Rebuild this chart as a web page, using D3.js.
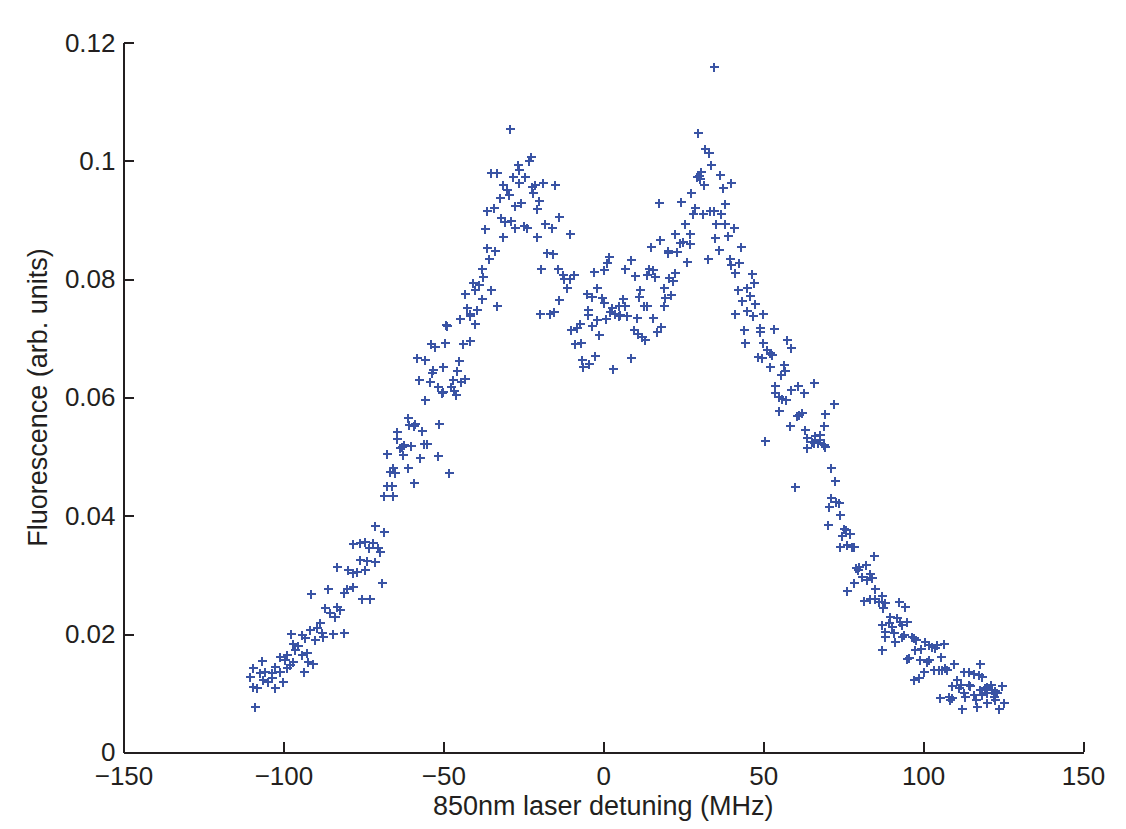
<!DOCTYPE html>
<html lang="en">
<head>
	<meta charset="UTF-8">
	<title>Fluorescence vs detuning</title>
	<style type="text/css">
		body {
			margin: 0;
			background: #fff;
		}
		svg text {
			font-family: "Liberation Sans", Arial, Helvetica, sans-serif;
			fill: #231f20;
		}
		.axis path,
		.axis line {
			fill: none;
			stroke: #231f20;
			stroke-width: 2;
			shape-rendering: crispEdges;
		}
		.axis text {
			font-size: 26px;
		}
		.label {
			font-size: 27px;
		}
		.pt {
			fill: none;
			stroke: #3953a4;
			stroke-width: 2;
			shape-rendering: crispEdges;
		}
	</style>
	<script src="https://d3js.org/d3.v7.min.js"></script>
</head>
<body>
<script type="text/javascript">
	// tick values / labels
	var xTicks = [-150, -100, -50, 0, 50, 100, 150];
	var yTicks = [0, 0.02, 0.04, 0.06, 0.08, 0.1, 0.12];
	var yTickLabels = ["0", "0.02", "0.04", "0.06", "0.08", "0.1", "0.12"];

	// measured points, [detuning MHz, fluorescence], grouped by part of the curve
	var leftWing = [[-67.7,0.0450],[-66.1,0.0450],[-59.3,0.0456],[-68.5,0.0433],[-65.6,0.0433],[-71.3,0.0382],[-68.7,0.0372],[-78.1,0.0352],[-76.2,0.0354],[-74.4,0.0356],[-72.0,0.0354],[-73.1,0.0345],[-70.3,0.0345],[-69.8,0.0338],[-76.2,0.0325],[-73.9,0.0324],[-71.3,0.0321],[-83.1,0.0314],[-79.7,0.0308],[-78.1,0.0303],[-77.0,0.0305],[-74.4,0.0308],[-69.2,0.0287],[-86.2,0.0277],[-80.2,0.0277],[-81.2,0.0269],[-78.1,0.0280],[-91.3,0.0267],[-75.5,0.0260],[-72.9,0.0260],[-87.0,0.0244],[-83.3,0.0246],[-82.3,0.0241],[-85.4,0.0235],[-83.8,0.0228],[-88.5,0.0218],[-89.4,0.0210],[-88.0,0.0201],[-91.6,0.0207],[-81.2,0.0202],[-84.4,0.0200],[-97.7,0.0200],[-94.2,0.0198],[-93.2,0.0193],[-90.1,0.0190],[-87.5,0.0195],[-97.1,0.0183],[-95.3,0.0179],[-96.3,0.0173],[-92.7,0.0168],[-94.2,0.0165],[-101.0,0.0162],[-98.9,0.0165],[-106.8,0.0155],[-99.5,0.0156],[-96.9,0.0153],[-97.9,0.0148],[-92.2,0.0153],[-90.6,0.0149],[-93.7,0.0135],[-98.9,0.0142],[-109.4,0.0142],[-110.4,0.0128],[-107.3,0.0134],[-105.7,0.0136],[-103.6,0.0134],[-102.6,0.0145],[-101.0,0.0135],[-106.3,0.0122],[-104.7,0.0119],[-103.6,0.0125],[-100.0,0.0119],[-108.3,0.0108],[-102.6,0.0108],[-109.4,0.0111],[-108.9,0.0077]];

	var leftShoulder = [[-53.9,0.0690],[-52.5,0.0686],[-49.4,0.0693],[-43.7,0.0690],[-41.8,0.0696],[-58.3,0.0666],[-55.7,0.0663],[-45.0,0.0661],[-50.0,0.0652],[-45.6,0.0645],[-53.1,0.0646],[-53.6,0.0641],[-57.5,0.0630],[-54.3,0.0626],[-51.8,0.0618],[-47.0,0.0630],[-43.2,0.0632],[-44.4,0.0626],[-47.5,0.0618],[-46.6,0.0611],[-50.5,0.0607],[-50.0,0.0610],[-46.0,0.0604],[-55.7,0.0596],[-60.9,0.0565],[-60.7,0.0553],[-58.8,0.0556],[-59.3,0.0551],[-56.7,0.0544],[-51.2,0.0555],[-64.5,0.0541],[-64.5,0.0529],[-63.5,0.0514],[-63.0,0.0517],[-62.7,0.0503],[-62.2,0.0520],[-60.2,0.0518],[-56.2,0.0521],[-55.0,0.0521],[-57.2,0.0497],[-51.8,0.0501],[-67.5,0.0504],[-65.6,0.0480],[-66.6,0.0474],[-65.1,0.0473],[-61.2,0.0480],[-48.1,0.0473]];

	var leftPeak = [[-29.3,0.1054],[-22.6,0.1007],[-23.1,0.1000],[-26.8,0.0994],[-26.2,0.0985],[-35.1,0.0980],[-33.1,0.0980],[-28.1,0.0973],[-24.4,0.0973],[-31.2,0.0960],[-26.3,0.0963],[-22.3,0.0956],[-21.3,0.0960],[-18.7,0.0963],[-15.0,0.0959],[-22.0,0.0946],[-30.1,0.0951],[-29.4,0.0942],[-32.4,0.0937],[-20.0,0.0933],[-25.7,0.0929],[-27.5,0.0923],[-20.7,0.0919],[-34.3,0.0920],[-36.4,0.0916],[-13.8,0.0906],[-31.9,0.0903],[-30.7,0.0897],[-28.8,0.0899],[-24.9,0.0890],[-23.7,0.0886],[-27.5,0.0886],[-36.9,0.0885],[-31.2,0.0872],[-20.6,0.0872],[-36.4,0.0852],[-33.8,0.0848],[-35.6,0.0835],[-37.9,0.0818],[-37.6,0.0804],[-40.8,0.0794],[-38.7,0.0791],[-40.0,0.0781],[-43.2,0.0775],[-35.0,0.0781],[-37.9,0.0767],[-33.1,0.0754],[-42.6,0.0751],[-41.6,0.0742],[-39.5,0.0748],[-41.8,0.0738],[-44.9,0.0733],[-40.0,0.0724],[-48.7,0.0721],[-49.3,0.0723]];

	var centreDip = [[-18.1,0.0893],[-16.0,0.0886],[-10.5,0.0876],[-17.6,0.0844],[-15.7,0.0843],[-19.4,0.0818],[-14.3,0.0818],[-12.6,0.0807],[-12.4,0.0800],[-10.3,0.0800],[-9.0,0.0808],[-11.2,0.0785],[-13.7,0.0765],[-19.7,0.0741],[-16.6,0.0742],[-15.5,0.0744],[-10.1,0.0714],[-8.2,0.0717],[-7.4,0.0724],[-8.8,0.0690],[-7.0,0.0693],[-6.7,0.0663],[-6.3,0.0652],[-4.6,0.0656],[-2.5,0.0670],[3.2,0.0649],[-3.0,0.0812],[0.1,0.0816],[1.7,0.0837],[1.2,0.0828],[-1.8,0.0785],[-5.1,0.0775],[-3.5,0.0770],[-0.4,0.0769],[0.1,0.0760],[-4.8,0.0748],[-4.8,0.0739],[-1.8,0.0731],[0.9,0.0732],[-3.5,0.0721],[-1.2,0.0706],[8.8,0.0833],[6.9,0.0818],[10.0,0.0805],[2.7,0.0751],[4.8,0.0754],[6.9,0.0755],[2.2,0.0745],[3.8,0.0741],[5.3,0.0739],[7.4,0.0737],[4.8,0.0737],[10.5,0.0734],[6.3,0.0766],[9.5,0.0714],[11.0,0.0707],[8.8,0.0666],[11.1,0.0770],[11.4,0.0782]];

	var rightPeak = [[34.5,0.1159],[29.5,0.1048],[31.9,0.1021],[33.2,0.1014],[33.8,0.0994],[30.7,0.0982],[29.8,0.0975],[29.3,0.0973],[30.1,0.0969],[36.4,0.0977],[39.9,0.0963],[31.4,0.0960],[37.4,0.0954],[27.5,0.0946],[17.5,0.0929],[24.4,0.0931],[38.2,0.0927],[28.8,0.0920],[28.1,0.0910],[31.2,0.0910],[33.5,0.0916],[34.5,0.0916],[36.8,0.0910],[25.6,0.0893],[35.3,0.0893],[38.2,0.0893],[40.8,0.0886],[22.5,0.0876],[27.0,0.0876],[35.0,0.0869],[38.9,0.0873],[17.6,0.0866],[15.0,0.0855],[24.1,0.0862],[24.9,0.0863],[27.2,0.0859],[23.2,0.0846],[20.1,0.0844],[20.4,0.0848],[36.3,0.0849],[43.2,0.0855],[26.2,0.0829],[32.6,0.0835],[14.2,0.0817],[15.5,0.0816],[13.7,0.0808],[16.3,0.0804],[22.5,0.0811],[20.7,0.0802],[21.8,0.0797],[18.9,0.0785],[19.4,0.0768],[21.3,0.0773],[12.6,0.0755],[13.7,0.0755],[18.9,0.0755],[15.7,0.0734],[18.0,0.0719],[16.8,0.0710],[12.1,0.0703],[13.1,0.0697]];

	var rightShoulder = [[39.5,0.0834],[39.9,0.0824],[42.6,0.0828],[41.3,0.0811],[46.5,0.0809],[47.0,0.0794],[42.0,0.0781],[45.1,0.0785],[45.8,0.0772],[43.4,0.0764],[47.5,0.0758],[41.3,0.0741],[45.1,0.0747],[46.8,0.0737],[50.1,0.0741],[43.9,0.0714],[48.9,0.0717],[48.9,0.0710],[53.3,0.0716],[44.4,0.0693],[50.1,0.0693],[57.6,0.0697],[58.8,0.0683],[51.2,0.0680],[52.0,0.0675],[52.8,0.0672],[48.3,0.0669],[49.6,0.0666],[52.0,0.0652],[56.4,0.0655],[56.9,0.0645],[55.6,0.0638],[53.8,0.0619],[60.8,0.0619],[58.7,0.0613],[62.7,0.0608],[65.8,0.0625],[53.8,0.0608],[55.1,0.0601],[55.9,0.0597],[57.2,0.0595],[55.1,0.0578],[72.0,0.0589],[61.1,0.0570],[62.2,0.0574],[60.6,0.0568],[69.4,0.0572],[58.3,0.0552],[68.9,0.0552],[50.7,0.0527]];

	var rightWing = [[63.2,0.0545],[63.7,0.0531],[65.3,0.0525],[66.3,0.0535],[67.3,0.0523],[67.9,0.0528],[68.9,0.0520],[65.8,0.0523],[67.7,0.0537],[63.7,0.0514],[69.4,0.0516],[71.3,0.0480],[72.6,0.0459],[60.1,0.0449],[71.2,0.0430],[72.9,0.0424],[70.5,0.0415],[73.6,0.0422],[73.9,0.0401],[70.2,0.0384],[75.2,0.0377],[76.0,0.0376],[77.3,0.0370],[74.7,0.0365],[74.1,0.0348],[76.2,0.0351],[77.8,0.0347],[78.3,0.0348],[84.5,0.0332],[79.1,0.0311],[79.9,0.0314],[82.3,0.0317],[79.5,0.0308],[80.9,0.0296],[82.5,0.0291],[83.3,0.0302],[84.0,0.0294],[78.3,0.0287],[85.1,0.0277],[76.2,0.0273],[81.4,0.0256],[83.3,0.0260],[85.1,0.0260],[86.1,0.0255]];

	var rightTail = [[87.2,0.0264],[88.2,0.0253],[87.5,0.0244],[92.4,0.0255],[94.5,0.0246],[89.8,0.0229],[91.9,0.0227],[92.9,0.0221],[95.0,0.0221],[93.4,0.0215],[89.2,0.0218],[90.3,0.0212],[87.2,0.0215],[88.2,0.0204],[90.8,0.0201],[88.2,0.0195],[91.3,0.0187],[93.4,0.0195],[93.9,0.0198],[96.6,0.0195],[97.1,0.0193],[97.9,0.0190],[100.7,0.0187],[101.8,0.0181],[102.8,0.0178],[103.8,0.0176],[104.4,0.0181],[106.4,0.0183],[87.2,0.0173],[97.6,0.0173],[99.2,0.0174],[105.7,0.0162],[95.5,0.0159],[94.9,0.0157],[98.9,0.0156],[101.2,0.0153],[101.8,0.0156],[109.6,0.0149],[117.7,0.0149],[100.2,0.0136],[97.1,0.0122],[98.6,0.0125],[103.3,0.0139],[104.9,0.0139],[105.9,0.0139],[107.0,0.0142],[107.5,0.0139],[112.7,0.0135],[114.3,0.0135],[115.8,0.0132],[117.4,0.0131],[118.5,0.0128],[110.6,0.0122],[109.1,0.0112],[111.1,0.0108],[111.7,0.0114],[114.3,0.0114],[114.8,0.0112],[117.9,0.0105],[119.5,0.0108],[120.0,0.0111],[121.1,0.0114],[121.6,0.0105],[122.6,0.0104],[123.1,0.0100],[122.1,0.0094],[124.7,0.0112],[118.5,0.0097],[120.0,0.0100],[112.7,0.0100],[113.2,0.0094],[116.0,0.0097],[105.4,0.0091],[108.0,0.0094],[108.5,0.0088],[109.1,0.0091],[116.4,0.0088],[116.9,0.0077],[120.0,0.0083],[122.6,0.0088],[125.2,0.0084],[123.7,0.0074],[112.2,0.0074]];

	var data = [].concat(leftWing, leftShoulder, leftPeak, centreDip, rightPeak, rightShoulder, rightWing, rightTail);

	// page + plot box
	var fullWidth = 1126;
	var fullHeight = 829;
	var plot = {left: 123.5, right: 1083, top: 42.7, bottom: 752.3};

	var svg = d3.select("body")
		.append("svg")
		.attr("width", fullWidth)
		.attr("height", fullHeight);

	var xScale = d3.scaleLinear()
		.domain([-150, 150])
		.range([plot.left, plot.right]);

	var yScale = d3.scaleLinear()
		.domain([0, 0.12])
		.range([plot.bottom, plot.top]);

	// matlab style: ticks point inward, only bottom and left axes
	var xAxis = d3.axisBottom(xScale)
		.tickValues(xTicks)
		.tickSizeInner(-10)
		.tickSizeOuter(0)
		.tickPadding(14);

	var yAxis = d3.axisLeft(yScale)
		.tickValues(yTicks)
		.tickFormat(function(d, i){ return yTickLabels[i]; })
		.tickSizeInner(-10)
		.tickSizeOuter(0)
		.tickPadding(8);

	svg.append("g")
		.attr("class", "x axis")
		.attr("transform", "translate(0," + plot.bottom + ")")
		.call(xAxis);

	svg.append("g")
		.attr("class", "y axis")
		.attr("transform", "translate(" + plot.left + ",0)")
		.call(yAxis);

	// data points as '+' markers
	var half = 4.5;
	svg.append("g")
		.selectAll(".pt")
		.data(data)
		.enter().append("path")
		.attr("class", "pt")
		.attr("d", function(d){
			var x = Math.round(xScale(d[0])), y = Math.round(yScale(d[1]));
			return "M" + (x - half) + "," + y + "H" + (x + half) + "M" + x + "," + (y - half) + "V" + (y + half);
		});

	// axis titles
	svg.append("text")
		.attr("class", "label")
		.attr("x", (plot.left + plot.right) / 2)
		.attr("y", 815)
		.attr("text-anchor", "middle")
		.text("850nm laser detuning (MHz)");

	svg.append("text")
		.attr("class", "label")
		.attr("transform", "translate(47," + ((plot.top + plot.bottom) / 2) + ") rotate(-90)")
		.attr("text-anchor", "middle")
		.text("Fluorescence (arb. units)");
</script>
</body>
</html>
